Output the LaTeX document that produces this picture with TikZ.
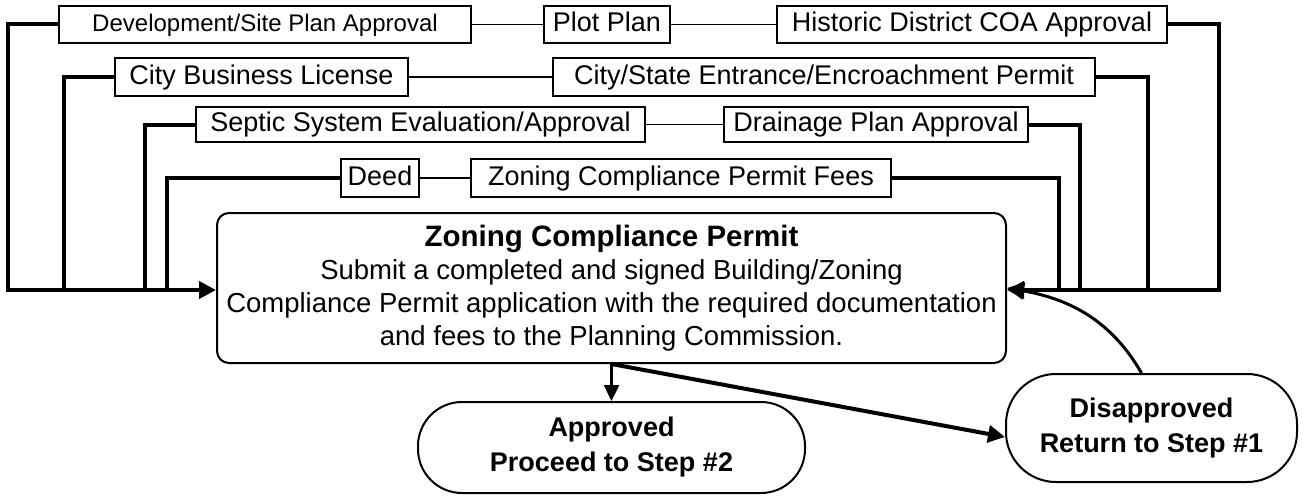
\documentclass[tikz,border=0pt]{standalone}
\usepackage{fontspec}
\setmainfont{Liberation Sans}
\usetikzlibrary{arrows.meta,positioning}
\tikzset{every picture/.append style={line width=2pt}}

\begin{document}
\begin{tikzpicture}[x=1pt,y=-1pt]
      \tikzstyle{doc}=[rectangle,draw,inner sep=0pt,text height=19.5pt,text depth=5.5pt,font=\fontsize{27}{33}\selectfont]
      \tikzstyle{permit}=[rectangle,draw,rounded corners=12pt,align=center,inner sep=0pt,font=\fontsize{27.5}{33}\selectfont]
      \tikzstyle{result}=[rectangle,draw,align=center,inner sep=0pt,font=\bfseries\fontsize{27}{35}\selectfont]
      \tikzstyle{link}=[line width=1.5pt]
      \tikzstyle{feed}=[line width=4pt]
      \tikzstyle{tip}=[-{Triangle[length=17pt,width=17pt]}]
      \useasboundingbox[fill=white] (0,0) rectangle (1305,495);
      % required documents
      \node[doc,minimum width=412,minimum height=37,font=\fontsize{24}{30}\selectfont] at (265,24.5) (dev) {Development/Site Plan Approval};
      \node[doc,minimum width=126,minimum height=37] at (607,24.5) (plot) {Plot Plan};
      \node[doc,minimum width=390,minimum height=37] at (972,24.5) (hist) {Historic District COA Approval};
      \node[doc,minimum width=293,minimum height=38] at (261.5,77) (lic) {City Business License};
      \node[doc,minimum width=542,minimum height=38] at (824,77) (enc) {City/State Entrance/Encroachment Permit};
      \node[doc,minimum width=449,minimum height=35] at (420.5,124.5) (sep) {Septic System Evaluation/Approval};
      \node[doc,minimum width=304,minimum height=35] at (876,124.5) (drain) {Drainage Plan Approval};
      \node[doc,minimum width=78,minimum height=38] at (380,178) (deed) {Deed};
      \node[doc,minimum width=420,minimum height=38] at (681,178) (fees) {Zoning Compliance Permit Fees};
      % permit and outcomes
      \node[permit,minimum width=789,minimum height=150] at (611.5,288) (main) {{\bfseries\fontsize{29.5}{33}\selectfont Zoning Compliance Permit}\\Submit a completed and signed Building/Zoning\\Compliance Permit application with the required documentation\\and fees to the Planning Commission.};
      \node[result,rounded corners=44pt,minimum width=387,minimum height=91] at (611.5,447.5) (appr) {Approved\\Proceed to Step \#2};
      \node[result,rounded corners=50pt,minimum width=291,minimum height=108] at (1151.5,428) (dis) {Disapproved\\Return to Step \#1};
      \coordinate (l1) at (8,290);
      \coordinate (l2) at (64,290);
      \coordinate (l3) at (145,290);
      \coordinate (l4) at (167,290);
      \coordinate (r1) at (1219,290);
      \coordinate (r2) at (1148,290);
      \coordinate (r3) at (1080,290);
      \coordinate (r4) at (1059,290);
      \draw(dev) edge[link] (plot);
      \draw(plot) edge[link] (hist);
      \draw(lic) edge[link] (enc);
      \draw(sep) edge[link] (drain);
      \draw(deed) edge[link] (fees);
      \draw[feed,tip] (dev.west) -| (l1) -- (l1 -| main.west);
      \draw[feed] (lic.west) -| (l2);
      \draw[feed] (sep.west) -| (l3);
      \draw[feed] (deed.west) -| (l4);
      \draw[feed,tip] (hist.east) -| (r1) -- (r1 -| main.east);
      \draw[feed] (enc.east) -| (r2);
      \draw[feed] (drain.east) -| (r3);
      \draw[feed] (fees.east) -| (r4);
      \draw[line width=2.5pt,-{Triangle[length=16pt,width=15pt]}] (main.south) -- (appr);
      \draw[feed,tip] (main.south) -- ([yshift=-9pt]dis.west);
      \draw[line width=3pt,tip] ([xshift=-10pt]dis.north) to[out=120,in=-10] (main.east);
    \end{tikzpicture}
\end{document}
